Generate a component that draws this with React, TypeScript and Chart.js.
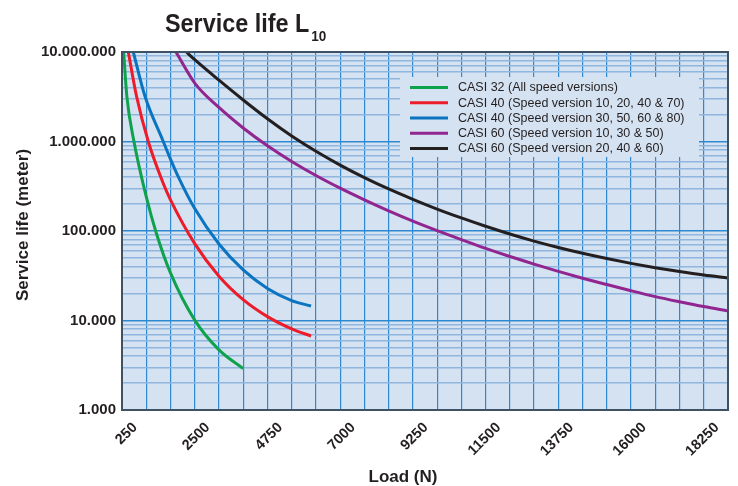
import React, { useEffect, useRef } from 'react';
import { Chart, registerables } from 'chart.js';

Chart.register(...registerables);

// ---- data ----
const seriesLabels = [
  'CASI 32 (All speed versions)',
  'CASI 40 (Speed version 10, 20, 40 & 70)',
  'CASI 40 (Speed version 30, 50, 60 & 80)',
  'CASI 60 (Speed version 10, 30 & 50)',
  'CASI 60 (Speed version 20, 40 & 60)',
];
const seriesColors = ['#0fa24c', '#ec1c2a', '#0a74c0', '#922690', '#231f20'];

const casi32Load = [300, 400, 620, 1000, 1310, 1750, 2500, 3250, 4000];
const casi32Life = [1.0e7, 3.2e6, 1.0e6, 2.42e5, 9.5e4, 3.4e4, 1.01e4, 4.7e3, 2.9e3];

const casi40aLoad = [445, 700, 1063, 1518, 1750, 2500, 3250, 4000, 4750, 5500, 6100];
const casi40aLife = [1.0e7, 3.2e6, 1.0e6, 3.46e5, 2.23e5, 7.23e4, 3.13e4, 1.71e4, 1.105e4, 8.06e3, 6.71e3];

const casi40bLoad = [600, 961, 1527, 1750, 2000, 2500, 3250, 4000, 4750, 5500, 6100];
const casi40bLife = [1.0e7, 3.2e6, 1.0e6, 6.36e5, 3.98e5, 1.78e5, 7.16e4, 3.67e4, 2.28e4, 1.67e4, 1.45e4];

const casi60aLoad = [1920, 2500, 3250, 4000, 4750, 5500, 6250, 7000, 7750, 8500, 9250, 10000, 10750, 11500, 12250, 13000, 13750, 14500, 15250, 16000, 16750, 17500, 18250, 19000];
const casi60aLife = [1.0e7, 4.5e6, 2.4e6, 1.415e6, 8.95e5, 5.98e5, 4.17e5, 3.01e5, 2.23e5, 1.68e5, 1.29e5, 1.01e5, 8.0e4, 6.39e4, 5.19e4, 4.27e4, 3.54e4, 2.97e4, 2.52e4, 2.15e4, 1.85e4, 1.62e4, 1.43e4, 1.28e4];

const casi60bLoad = [2240, 2500, 3250, 4000, 4750, 5500, 6250, 7000, 7750, 8500, 9250, 10000, 10750, 11500, 12250, 13000, 13750, 14500, 15250, 16000, 16750, 17500, 18250, 19000];
const casi60bLife = [1.0e7, 8.2e6, 4.84e6, 2.91e6, 1.793e6, 1.152e6, 7.77e5, 5.45e5, 3.95e5, 2.95e5, 2.26e5, 1.76e5, 1.4e5, 1.13e5, 9.26e4, 7.71e4, 6.54e4, 5.63e4, 4.92e4, 4.35e4, 3.89e4, 3.52e4, 3.22e4, 2.99e4];

const seriesLoads = [casi32Load, casi40aLoad, casi40bLoad, casi60aLoad, casi60bLoad];
const seriesLifes = [casi32Life, casi40aLife, casi40bLife, casi60aLife, casi60bLife];

const xTickLabels = ['250', '2500', '4750', '7000', '9250', '11500', '13750', '16000', '18250'];
const xMin = 250;
const xMax = 19000;
const xGridStep = 750;

const yDecades = [1000, 10000, 100000, 1000000, 10000000];
const yTickLabels = ['1.000', '10.000', '100.000', '1.000.000', '10.000.000'];
const yMinorFactors = [2, 3, 4, 5, 6, 7, 8, 9];

const titleMain = 'Service life L';
const titleSub = '10';
const xTitle = 'Load (N)';
const yTitle = 'Service life (meter)';

// ---- styles ----
const FONT = "'Liberation Sans', Arial, Helvetica, sans-serif";
const TEXT = '#231f20';
const BG = '#d5e2f1';
const V_GRID = '#2f89d2';
const H_MAJOR = '#2f89d2';
const H_MINOR = '#8fb6df';
const FRAME = '#3f5264';

const bgPlugin = {
  id: 'plotBg',
  beforeDraw(chart: any) {
    const { ctx, chartArea: a } = chart;
    ctx.save();
    ctx.fillStyle = BG;
    ctx.fillRect(a.left, a.top, a.right - a.left, a.bottom - a.top);
    ctx.restore();
  },
};

const overlayPlugin = {
  id: 'overlay',
  afterDatasetsDraw(chart: any) {
    const { ctx, chartArea: a } = chart;
    ctx.save();
    // frame
    ctx.strokeStyle = FRAME;
    ctx.lineWidth = 2;
    ctx.strokeRect(a.left, a.top, a.right - a.left, a.bottom - a.top);

    // legend box
    const lx = 400, ly = 77, lw = 299, lh = 80;
    ctx.fillStyle = BG;
    ctx.fillRect(lx, ly, lw, lh);
    chart.data.datasets.forEach((ds: any, i: number) => {
      const cy = 87.5 + i * 15.25;
      ctx.strokeStyle = ds.borderColor;
      ctx.lineWidth = 3;
      ctx.beginPath();
      ctx.moveTo(410, cy);
      ctx.lineTo(448, cy);
      ctx.stroke();
      ctx.fillStyle = TEXT;
      ctx.font = `12.5px ${FONT}`;
      ctx.textAlign = 'left';
      ctx.textBaseline = 'middle';
      ctx.fillText(ds.label, 458, cy + 0.5);
    });
    ctx.restore();
  },
  afterDraw(chart: any) {
    const { ctx } = chart;
    ctx.save();
    ctx.fillStyle = TEXT;
    ctx.textBaseline = 'alphabetic';
    // title with subscript (slightly condensed like the original)
    ctx.textAlign = 'left';
    ctx.save();
    ctx.translate(165, 32);
    ctx.scale(0.9, 1);
    ctx.font = `bold 26px ${FONT}`;
    ctx.fillText(titleMain, 0, 0);
    const w = ctx.measureText(titleMain).width;
    ctx.font = `bold 15px ${FONT}`;
    ctx.fillText(titleSub, w + 2, 9);
    ctx.restore();
    // x title
    ctx.font = `bold 17px ${FONT}`;
    ctx.textAlign = 'center';
    ctx.fillText(xTitle, 403, 481.5);
    // y title
    ctx.translate(27.5, 225);
    ctx.rotate(-Math.PI / 2);
    ctx.fillText(yTitle, 0, 0);
    ctx.restore();
  },
};

const isDecade = (v: number) => yDecades.indexOf(v) >= 0;

export default function App() {
  const ref = useRef<HTMLCanvasElement>(null);

  useEffect(() => {
    const canvas = ref.current;
    if (!canvas) return;
    const datasets = seriesLabels.map((label, i) => ({
      label,
      data: seriesLoads[i].map((x, k) => ({ x, y: seriesLifes[i][k] })),
      borderColor: seriesColors[i],
      backgroundColor: seriesColors[i],
      borderWidth: 3,
      pointRadius: 0,
      cubicInterpolationMode: 'monotone' as const,
      fill: false,
      clip: 0,
    }));

    const chart = new Chart(canvas, {
      type: 'line',
      data: { datasets },
      plugins: [bgPlugin, overlayPlugin],
      options: {
        animation: false,
        responsive: true,
        maintainAspectRatio: false,
        layout: { padding: { top: 52, right: 10, left: 0, bottom: 0 } },
        plugins: {
          legend: { display: false },
          title: { display: false },
          tooltip: { enabled: false },
        },
        scales: {
          x: {
            type: 'linear',
            min: xMin,
            max: xMax,
            afterBuildTicks: (s: any) => {
              const t: any[] = [];
              for (let v = xMin; v <= xMax; v += xGridStep) t.push({ value: v });
              s.ticks = t;
            },
            afterFit: (s: any) => {
              s.height = 76;
              s.paddingLeft = 0;
              s.paddingRight = 0;
            },
            grid: { color: V_GRID, lineWidth: 1.2, drawTicks: false },
            border: { display: false },
            ticks: {
              autoSkip: false,
              minRotation: 45,
              maxRotation: 45,
              padding: 9,
              labelOffset: 13,
              color: TEXT,
              font: { family: FONT, size: 14.5, weight: 'bold' },
              callback: (v: any) => (xTickLabels.indexOf(String(v)) >= 0 ? String(v) : ''),
            },
          },
          y: {
            type: 'logarithmic',
            min: 1000,
            max: 10000000,
            afterBuildTicks: (s: any) => {
              const t: any[] = [];
              yDecades.forEach((d, i) => {
                t.push({ value: d });
                if (i < yDecades.length - 1) yMinorFactors.forEach((m) => t.push({ value: m * d }));
              });
              s.ticks = t;
            },
            afterFit: (s: any) => {
              s.width = 122;
            },
            grid: {
              color: (c: any) => (c.tick && isDecade(c.tick.value) ? H_MAJOR : H_MINOR),
              lineWidth: 1.4,
              drawTicks: false,
            },
            border: { display: false },
            ticks: {
              autoSkip: false,
              padding: 6,
              color: TEXT,
              font: { family: FONT, size: 15, weight: 'bold' },
              callback: (v: any) => {
                const k = yDecades.indexOf(Number(v));
                return k >= 0 ? yTickLabels[k] : '';
              },
            },
          },
        },
      } as any,
    });
    return () => chart.destroy();
  }, []);

  return (
    <div style={{ position: 'fixed', left: 0, top: 0, width: 738, height: 486, background: '#fff' }}>
      <canvas ref={ref} />
    </div>
  );
}
